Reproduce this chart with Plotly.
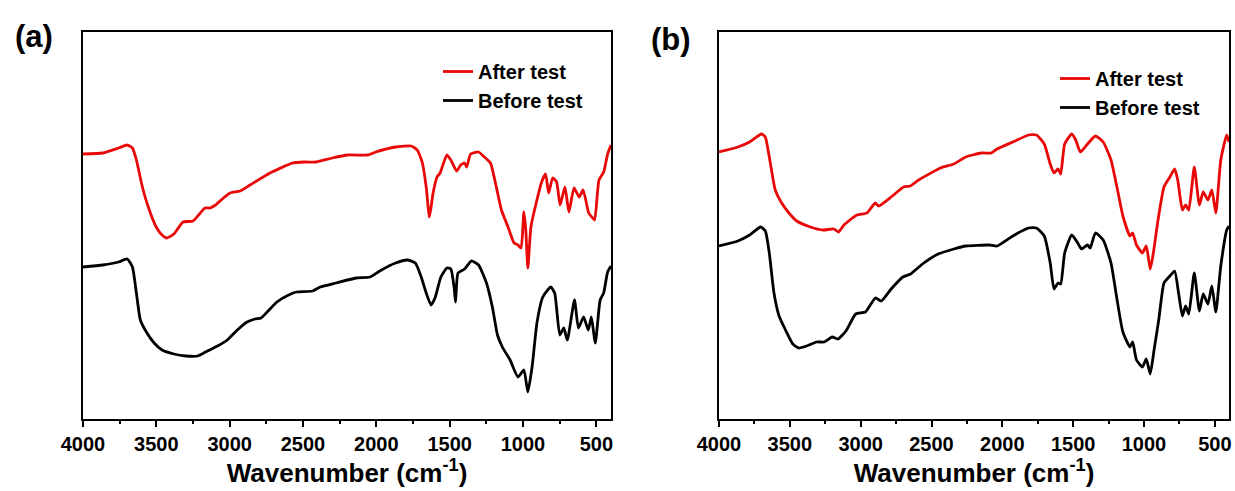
import plotly.graph_objects as go

# ---------------- data ----------------
# Panel (a)
wn_a_after = [4000, 3865, 3757, 3698, 3663, 3636, 3595, 3555, 3501, 3461, 3428, 3380, 3318, 3250,
              3168, 3134, 3096, 3043, 2997, 2929, 2861, 2725, 2571, 2490, 2409, 2301, 2193, 2058,
              2004, 1869, 1761, 1721, 1686, 1660, 1638, 1613, 1586, 1565, 1546, 1519, 1492, 1452,
              1425, 1398, 1384, 1357, 1303, 1263, 1222, 1182, 1147, 1102, 1061, 1034, 1013, 994,
              981, 967, 946, 905, 873, 846, 825, 798, 771, 747, 714, 687, 652, 617, 590, 552, 531,
              512, 482, 450, 423, 400]
t_a_after = [265, 266, 271, 274, 271, 259, 232, 212, 192, 184, 181, 185, 197, 198,
             211, 211, 214, 221, 226, 228, 234, 246, 256, 257, 257, 261, 264, 264,
             267, 272, 273, 269, 256, 232, 202, 226, 242, 246, 254, 264, 259, 248,
             254, 256, 252, 265, 267, 262, 256, 232, 209, 192, 176, 174, 171, 207,
             189, 151, 192, 219, 237, 245, 226, 241, 237, 214, 232, 207, 231, 222, 229, 206, 202,
             199, 239, 247, 265, 274]

wn_a_before = [4000, 3865, 3757, 3698, 3663, 3636, 3609, 3568, 3515, 3461, 3380, 3299, 3218, 3164,
               3083, 3016, 2948, 2881, 2827, 2786, 2732, 2678, 2598, 2544, 2436, 2382, 2274, 2139,
               2044, 1977, 1869, 1788, 1734, 1694, 1660, 1627, 1600, 1560, 1519, 1492, 1470, 1460,
               1443, 1398, 1352, 1303, 1249, 1209, 1174, 1141, 1088, 1034, 994, 967, 938, 905,
               865, 811, 784, 749, 722, 698, 649, 622, 587, 555, 534, 507, 474, 450, 423, 400]
t_a_before = [152, 154, 157, 160, 152, 126, 99, 87, 76, 69, 65, 63, 63, 67,
              73, 79, 89, 97, 100, 101, 109, 117, 124, 127, 128, 132, 136, 141,
              142, 148, 156, 159, 156, 142, 126, 114, 121, 142, 151, 150, 132, 117,
              146, 150, 158, 154, 136, 112, 84, 72, 59, 42, 49, 27, 52, 96,
              122, 132, 126, 84, 91, 79, 119, 91, 102, 89, 102, 76, 119, 126, 147, 153]

# Panel (b)
wn_b_after = [4000, 3867, 3784, 3700, 3673, 3645, 3603, 3562, 3506, 3451, 3354, 3265, 3190, 3156,
              3118, 3026, 2956, 2897, 2873, 2785, 2697, 2649, 2591, 2437, 2342, 2259, 2148, 2078,
              2037, 1926, 1815, 1759, 1704, 1662, 1635, 1607, 1588, 1560, 1510, 1482, 1449, 1399,
              1343, 1288, 1233, 1191, 1149, 1099, 1080, 1053, 1011, 984, 956, 934, 901, 859, 817,
              784, 762, 729, 706, 684, 645, 609, 582, 549, 521, 493, 458, 416, 400]
t_b_after = [267, 272, 277, 285, 282, 262, 229, 217, 206, 198, 192, 189, 190, 187,
             194, 204, 206, 216, 213, 222, 232, 233, 239, 251, 255, 262, 266, 266,
             270, 277, 284, 284, 275, 255, 246, 250, 245, 275, 285, 279, 267, 275,
             283, 277, 259, 232, 203, 183, 186, 174, 166, 173, 150, 166, 199, 232, 242,
             250, 239, 209, 214, 209, 252, 214, 227, 219, 229, 206, 259, 284, 277]

wn_b_before = [4000, 3867, 3784, 3706, 3673, 3645, 3612, 3576, 3534, 3479, 3437, 3382, 3312, 3257,
               3201, 3160, 3104, 3035, 2966, 2896, 2855, 2785, 2702, 2647, 2564, 2453, 2342, 2259,
               2092, 2037, 1926, 1815, 1759, 1704, 1662, 1635, 1607, 1588, 1560, 1510, 1468, 1441,
               1399, 1380, 1343, 1288, 1233, 1191, 1149, 1099, 1080, 1053, 1011, 984, 956, 929,
               895, 859, 817, 784, 756, 729, 706, 684, 645, 609, 582, 549, 521, 493, 458, 416, 400]
t_b_before = [173, 178, 184, 192, 188, 166, 126, 103, 90, 75, 71, 73, 77, 77,
              82, 80, 88, 105, 107, 121, 118, 130, 142, 145, 155, 165, 170, 173,
              174, 173, 183, 191, 191, 183, 156, 130, 136, 135, 166, 184, 176, 170,
              174, 171, 186, 179, 156, 120, 87, 72, 77, 59, 52, 60, 45, 69,
              100, 136, 143, 148, 126, 103, 113, 105, 146, 108, 125, 115, 133, 107, 153, 189, 193]

series_names = ["After test", "Before test"]
panel_labels = ["(a)", "(b)"]
x_tick_vals = [4000, 3500, 3000, 2500, 2000, 1500, 1000, 500]
x_title = "Wavenumber (cm<sup>-1</sup>)"

RED = "#e80808"
BLACK = "#000000"
FONT = "Liberation Sans, Arial, sans-serif"

fig = go.Figure()

def add(x, y, name, color, xa, ya, leg):
    fig.add_trace(go.Scatter(x=x, y=y, mode="lines", name=name,
                             line=dict(color=color, width=2.8, shape="spline", smoothing=0.5),
                             xaxis=xa, yaxis=ya, legend=leg))

add(wn_a_after, t_a_after, series_names[0], RED, "x", "y", "legend")
add(wn_a_before, t_a_before, series_names[1], BLACK, "x", "y", "legend")
add(wn_b_after, t_b_after, series_names[0], RED, "x2", "y2", "legend2")
add(wn_b_before, t_b_before, series_names[1], BLACK, "x2", "y2", "legend2")

H = 491.0
W = 1235.0
ydom = [1 - 419 / H, 1 - 32 / H]

def xaxis(dom):
    return dict(domain=dom, range=[4000, 400], tickvals=x_tick_vals, automargin=False,
                showline=True, linecolor="black", linewidth=2, mirror=True,
                ticks="outside", ticklen=6, tickwidth=2, tickcolor="black",
                minor=dict(dtick=250, tick0=0, ticks="outside", ticklen=3, tickwidth=1.5, tickcolor="black"),
                showgrid=False, zeroline=False,
                tickfont=dict(family=FONT, size=20, color="black", weight="bold"),
                title=dict(text=x_title, font=dict(family=FONT, size=26, color="black", weight="bold"),
                           standoff=6))

def yaxis(anchor):
    return dict(domain=ydom, range=[0, 387], showticklabels=False, ticks="", automargin=False,
                showline=True, linecolor="black", linewidth=2, mirror=True,
                showgrid=False, zeroline=False, anchor=anchor)

legfont = dict(family=FONT, size=20, color="black", weight="bold")

fig.update_layout(
    width=1235, height=491,
    margin=dict(l=0, r=0, t=0, b=0, autoexpand=False),
    paper_bgcolor="white", plot_bgcolor="white",
    xaxis=dict(xaxis([83 / W, 611 / W]), anchor="y"),
    yaxis=yaxis("x"),
    xaxis2=dict(xaxis([719 / W, 1229 / W]), anchor="y2"),
    yaxis2=yaxis("x2"),
    legend=dict(x=438 / W, y=1 - 52 / H, xanchor="left", yanchor="top", font=legfont,
                bgcolor="rgba(0,0,0,0)", tracegroupgap=0, itemwidth=30),
    legend2=dict(x=1055 / W, y=1 - 59 / H, xanchor="left", yanchor="top", font=legfont,
                 bgcolor="rgba(0,0,0,0)", tracegroupgap=0, itemwidth=30),
    annotations=[
        dict(text="<b>" + panel_labels[0] + "</b>", x=34 / W, y=1 - 36 / H, xref="paper", yref="paper",
             xanchor="center", yanchor="middle",
             showarrow=False, font=dict(family=FONT, size=31, color="black")),
        dict(text="<b>" + panel_labels[1] + "</b>", x=671 / W, y=1 - 39 / H, xref="paper", yref="paper",
             xanchor="center", yanchor="middle",
             showarrow=False, font=dict(family=FONT, size=31, color="black")),
    ],
)

fig.write_html("out.html")
